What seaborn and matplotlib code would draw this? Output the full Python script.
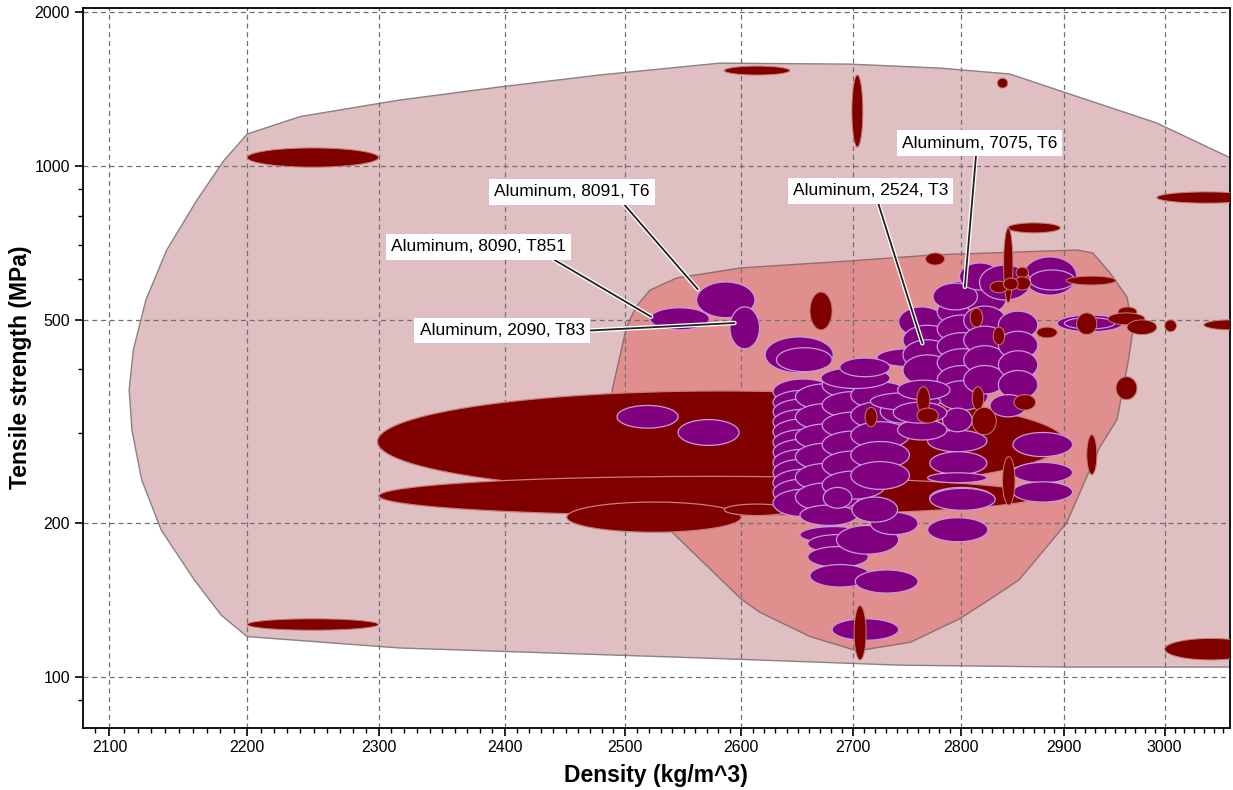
import numpy as np
import pandas as pd
import matplotlib
matplotlib.use('Agg')
import matplotlib.pyplot as plt
import matplotlib.patheffects as pe
from matplotlib.ticker import FixedLocator, FixedFormatter, NullFormatter
import seaborn as sns

# Envelope outlines: density (kg/m^3), tensile strength (MPa)
outer_rho = [2200, 2240, 2316, 2396, 2478, 2581, 2697, 2780, 2847, 2902, 2992, 3057, 3150,
             3150, 3069, 2902, 2743, 2564, 2316, 2200, 2181, 2161, 2137, 2123, 2116, 2114,
             2117, 2126, 2141, 2163, 2183]
outer_ts = [1155, 1250, 1346, 1428, 1507, 1590, 1583, 1555, 1514, 1390, 1214, 1060, 880,
            104.6, 104.6, 104.6, 105.5, 109, 114, 120, 132, 155, 194, 243, 304, 365,
            437, 547, 685, 858, 1027]

inner_rho = [2509, 2521, 2544, 2600, 2697, 2774, 2912, 2928, 2945, 2962, 2968, 2963, 2952,
             2935, 2902, 2856, 2828, 2799, 2753, 2704, 2661, 2616, 2600, 2564, 2541, 2525,
             2503, 2491, 2489, 2501]
inner_ts = [530, 572, 604, 632, 652, 670, 685, 676, 618, 554, 478, 412, 319,
            282, 200, 155, 142, 130, 117, 112.5, 120, 134, 142, 170, 191, 207,
            243, 304, 365, 484]

# Bubbles: (density min, density max, strength min, strength max)
wide_red = [
    (2299, 2900, 230, 363),
    (2300, 2876, 207, 247),
    (2451, 2600, 192, 220),
    (2585, 2643, 207, 218),
]

aluminum = [
    (2561, 2612, 505, 593), (2521, 2572, 478, 528), (2590, 2616, 439, 530),
    (2621, 2682, 394, 463), (2631, 2681, 396, 441), (2493, 2545, 307, 340),
    (2545, 2598, 284, 319),
    # column ~2655
    (2628, 2682, 342, 383), (2628, 2682, 327, 364), (2628, 2682, 312, 350),
    (2628, 2682, 298, 334), (2628, 2682, 285, 320), (2628, 2682, 272, 305),
    (2628, 2682, 260, 292), (2628, 2682, 248, 279), (2628, 2682, 237, 267),
    (2628, 2682, 226, 255), (2628, 2682, 216, 244), (2628, 2682, 206, 233),
    # column ~2675
    (2648, 2705, 333, 375), (2648, 2705, 304, 343), (2648, 2705, 278, 313),
    (2648, 2705, 254, 287), (2648, 2705, 231, 262), (2648, 2705, 211, 240),
    # column ~2700
    (2672, 2730, 351, 396), (2672, 2730, 321, 362), (2672, 2730, 293, 330),
    (2672, 2730, 268, 303), (2672, 2730, 244, 277), (2672, 2730, 223, 253),
    # column ~2725
    (2698, 2752, 335, 378), (2698, 2752, 306, 346), (2698, 2752, 280, 316),
    (2698, 2752, 256, 289), (2698, 2752, 233, 264),
    (2722, 2782, 405, 439), (2671, 2734, 367, 403), (2688, 2734, 387, 421),
    (2742, 2785, 463, 530),
    (2746, 2792, 427, 488), (2746, 2792, 399, 457), (2746, 2792, 372, 427),
    (2778, 2826, 525, 595), (2778, 2826, 487, 552), (2778, 2826, 451, 511),
    (2778, 2826, 417, 472), (2778, 2826, 387, 439), (2778, 2826, 358, 407),
    (2778, 2826, 333, 380),
    (2803, 2843, 514, 582), (2803, 2843, 468, 532), (2803, 2843, 429, 486),
    (2803, 2843, 392, 445), (2803, 2843, 358, 407),
    (2836, 2874, 459, 520), (2836, 2874, 419, 475), (2836, 2874, 383, 435),
    (2836, 2874, 350, 398),
    (2774, 2816, 523, 590), (2799, 2838, 572, 646), (2860, 2912, 559, 664),
    (2866, 2910, 572, 626), (2818, 2867, 547, 640),
    (2893, 2958, 474, 511), (2900, 2950, 480, 505),
    (2769, 2825, 276, 304), (2771, 2825, 249, 276), (2769, 2825, 240, 251),
    (2771, 2831, 214, 235), (2850, 2908, 270, 301), (2850, 2908, 240, 263),
    (2850, 2908, 220, 241), (2783, 2811, 302, 336), (2828, 2863, 323, 357),
    (2725, 2765, 314, 349), (2741, 2787, 291, 319), (2716, 2781, 333, 360),
    (2737, 2787, 314, 345), (2741, 2790, 349, 381),
    (2652, 2713, 183, 197), (2659, 2714, 175, 190), (2659, 2714, 164, 180),
    (2661, 2716, 150, 166), (2702, 2760, 146, 162), (2681, 2742, 118, 130),
    (2685, 2742, 174, 198), (2716, 2760, 190, 210), (2652, 2704, 198, 217),
    (2673, 2699, 214, 235), (2699, 2741, 201, 225), (2771, 2833, 212, 234),
    (2769, 2826, 184, 205),
]

other_red = [
    (2200, 2300, 995, 1085), (2200, 2300, 123.5, 130), (2585, 2643, 1507, 1569),
    (2699, 2709, 1089, 1507), (2835, 2845, 1421, 1486), (2992, 3095, 846, 890),
    (2845, 2896, 740, 774), (2841, 2850, 540, 757), (2828, 2845, 565, 595),
    (2853, 2865, 604, 634), (2851, 2867, 572, 607), (2841, 2855, 572, 604),
    (2902, 2951, 585, 609), (2873, 2893, 461, 484), (2912, 2932, 468, 516),
    (2953, 2972, 507, 530), (2943, 2980, 489, 516), (2962, 2992, 468, 500),
    (3000, 3012, 474, 500), (3040, 3095, 478, 500), (2951, 2972, 349, 387),
    (2851, 2872, 333, 357), (2922, 2932, 249, 298), (2840, 2852, 217, 270),
    (2759, 2771, 328, 370), (2811, 2822, 333, 370), (2811, 2834, 298, 337),
    (2759, 2779, 314, 336), (2661, 2681, 478, 567), (2711, 2722, 309, 337),
    (2809, 2821, 484, 527), (2831, 2842, 447, 484), (2767, 2785, 640, 676),
    (2701, 2712, 108, 138), (3000, 3095, 108, 119),
]

labels = ['Aluminum, 8091, T6', 'Aluminum, 8090, T851', 'Aluminum, 2090, T83',
          'Aluminum, 2524, T3', 'Aluminum, 7075, T6']
label_rho = [2455, 2379, 2398, 2716, 2818]
label_ts = [890, 695, 476, 894, 1109]
target_rho = [2562, 2522, 2594, 2764, 2804]
target_ts = [574, 507, 493, 450, 580]
line_start = [(0.81, 0), (0.88, 0), (1, 0.5), (0.54, 0), (0.48, 0)]


def bubble(r_lo, r_hi, s_lo, s_hi, n=120):
    # ellipse in log-log space
    t = np.linspace(0, 2 * np.pi, n)
    cx = (np.log(r_lo) + np.log(r_hi)) / 2
    cy = (np.log(s_lo) + np.log(s_hi)) / 2
    a = (np.log(r_hi) - np.log(r_lo)) / 2
    b = (np.log(s_hi) - np.log(s_lo)) / 2
    return np.exp(cx + a * np.cos(t)), np.exp(cy + b * np.sin(t))


sns.set_theme(style='ticks')
plt.rcParams['font.family'] = ['Liberation Sans', 'DejaVu Sans']
plt.rcParams['text.color'] = 'black'
plt.rcParams['axes.labelcolor'] = 'black'

fig = plt.figure(figsize=(12.33, 7.9), dpi=100)
ax = fig.add_axes([0.067, 0.0789, 0.9306, 0.9116])
ax.set_xscale('log')
ax.set_yscale('log')

ax.fill(outer_rho, outer_ts, fc='#dfbfc1', ec='#8c8080', lw=1, zorder=0.2)
ax.fill(inner_rho, inner_ts, fc='#e18e8e', ec='#8c7070', lw=1, zorder=0.3)

cols = ['rho_lo', 'rho_hi', 'ts_lo', 'ts_hi']
z = 2
for _, r in pd.DataFrame(wide_red, columns=cols).iterrows():
    x, y = bubble(*r.values)
    ax.fill(x, y, fc='#800000', ec='#c48080', lw=0.9, zorder=z)
    z += 0.01
for _, r in pd.DataFrame(aluminum, columns=cols).iterrows():
    x, y = bubble(*r.values)
    ax.fill(x, y, fc='#800080', ec='#c99ad9', lw=0.9, zorder=z)
    z += 0.01
for _, r in pd.DataFrame(other_red, columns=cols).iterrows():
    x, y = bubble(*r.values)
    ax.fill(x, y, fc='#800000', ec='#c08070', lw=0.7, zorder=z)
    z += 0.01

for i, txt in enumerate(labels):
    ann = ax.annotate(txt, xy=(target_rho[i], target_ts[i]), xytext=(label_rho[i], label_ts[i]),
                      ha='center', va='center', fontsize=12.5, color='black', zorder=10,
                      bbox=dict(boxstyle='square,pad=0.3', fc='white', ec='none'),
                      arrowprops=dict(arrowstyle='-', color='#202020', lw=1.3,
                                      shrinkA=0, shrinkB=0, relpos=line_start[i]))
    ann.arrow_patch.set_path_effects([pe.withStroke(linewidth=3.2, foreground='white')])

ax.set_xlim(2081, 3067)
ax.set_ylim(79.6, 2043)

xmaj = list(range(2100, 3001, 100))
ax.xaxis.set_major_locator(FixedLocator(xmaj))
ax.xaxis.set_major_formatter(FixedFormatter([str(v) for v in xmaj]))
ax.xaxis.set_minor_locator(FixedLocator([v for v in range(2090, 3070, 10) if v % 100 != 0]))
ax.xaxis.set_minor_formatter(NullFormatter())
ymaj = [100, 200, 500, 1000, 2000]
ax.yaxis.set_major_locator(FixedLocator(ymaj))
ax.yaxis.set_major_formatter(FixedFormatter([str(v) for v in ymaj]))
ax.yaxis.set_minor_locator(FixedLocator([90, 300, 400, 600, 700, 800, 900]))
ax.yaxis.set_minor_formatter(NullFormatter())

ax.tick_params(which='major', direction='out', length=6, width=1.2, labelsize=11.5,
               colors='black', labelcolor='black', pad=3)
ax.tick_params(which='minor', direction='out', length=3.5, width=1.0, colors='black')
ax.set_axisbelow(True)
ax.grid(True, which='major', ls=(0, (4, 3)), color='#707070', lw=0.9)
for s in ax.spines.values():
    s.set_color('black')
    s.set_linewidth(1.3)

ax.set_xlabel('Density (kg/m^3)', fontsize=16.5, fontweight='bold', labelpad=6, color='black')
ax.set_ylabel('Tensile strength (MPa)', fontsize=16.5, fontweight='bold', labelpad=2, color='black')

fig.savefig('out.png', dpi=100, facecolor='white')
